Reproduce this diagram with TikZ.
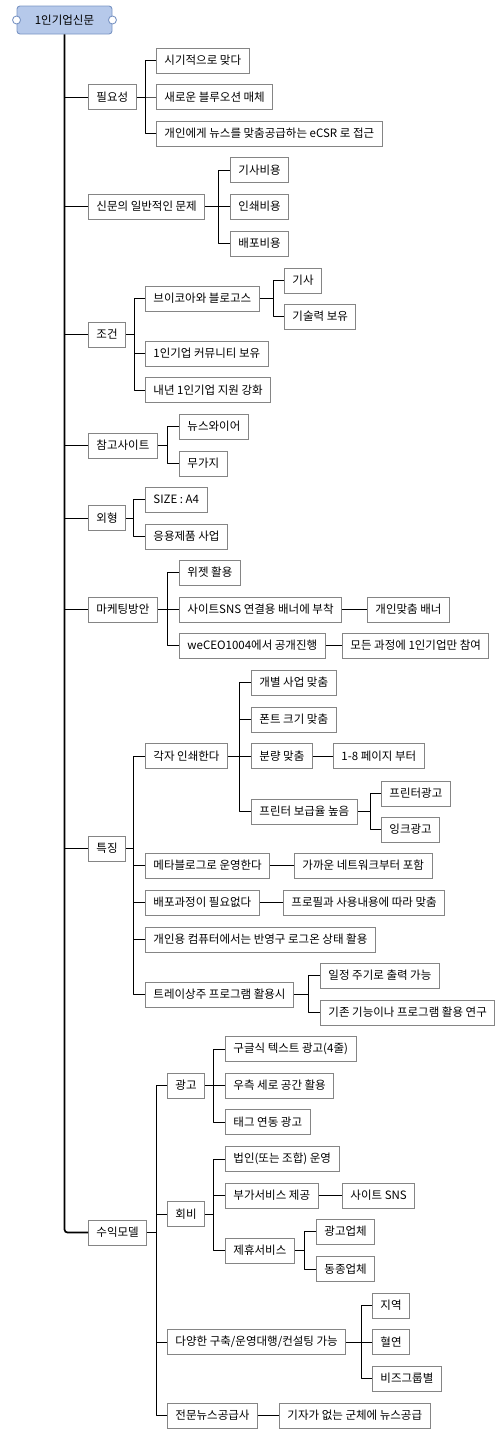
\documentclass[tikz,border=0pt]{standalone}
\usepackage{fontspec}
\setmainfont{Noto Sans CJK KR}
\usetikzlibrary{positioning}
\definecolor{mapRoot}{HTML}{B6C9EA}
\definecolor{mapRootLine}{HTML}{7A95C4}
\definecolor{mapBox}{HTML}{858585}

\begin{document}
\begin{tikzpicture}[x=1pt, y=-1pt,
  topic/.style={draw=mapBox, line width=0.9pt, fill=white, anchor=west,
    minimum height=25pt, inner xsep=8pt, inner ysep=0pt,
    font=\fontsize{11.5}{13}\selectfont},
  link/.style={line width=1pt, line join=round},
  trunk/.style={line width=1.7pt, rounded corners=3pt},
  handle/.style={draw=mapRootLine, fill=white, line width=0.9pt}]

  \useasboundingbox (0,0) rectangle (500,1436);

  %% --- Root topic ---
  \node[draw=mapRootLine, fill=mapRoot, line width=0.9pt, rounded corners=3pt,
    minimum width=95pt, minimum height=28pt, font=\fontsize{11.5}{13}\selectfont]
    (root) at (64.5, 20) {1인기업신문};
  \draw[handle] (root.west) circle [radius=4pt];
  \draw[handle] (root.east) circle [radius=4pt];

  %% --- Main topics ---
  \node[topic] (need)      at (88, 97)     {필요성};
  \node[topic] (problem)   at (88, 206.5)  {신문의 일반적인 문제};
  \node[topic] (cond)      at (88, 334.5)  {조건};
  \node[topic] (refsite)   at (88, 445.5)  {참고사이트};
  \node[topic] (outline)   at (88, 518)    {외형};
  \node[topic] (marketing) at (88, 609.5)  {마케팅방안};
  \node[topic] (feature)   at (88, 848.5)  {특징};
  \node[topic] (revenue)   at (88, 1232.5) {수익모델};

  %% trunk and its branches
  \draw[trunk] (root.south) |- (revenue.west);
  \foreach \n in {need, problem, cond, refsite, outline, marketing, feature}
    \draw[link] (\n.west) -- (\n.west -| root.south);

  %% --- 필요성 ---
  \node[topic] (need1) at (156, 60.5)  {시기적으로 맞다};
  \node[topic] (need2) at (156, 97)    {새로운 블루오션 매체};
  \node[topic] (need3) at (156, 133.5) {개인에게 뉴스를 맞춤공급하는 eCSR 로 접근};
  \foreach \c in {need1, need2, need3}
    \draw[link] (\c.west) -- ++(-11,0) |- (need.east);

  %% --- 신문의 일반적인 문제 ---
  \node[topic] (cost1) at (230, 170)   {기사비용};
  \node[topic] (cost2) at (230, 206.5) {인쇄비용};
  \node[topic] (cost3) at (230, 243.5) {배포비용};
  \foreach \c in {cost1, cost2, cost3}
    \draw[link] (\c.west) -- ++(-12,0) |- (problem.east);

  %% --- 조건 ---
  \node[topic] (cond1)  at (145, 298.5) {브이코아와 블로고스};
  \node[topic] (cond2)  at (145, 353.5) {1인기업 커뮤니티 보유};
  \node[topic] (cond3)  at (145, 390)   {내년 1인기업 지원 강화};
  \node[topic] (cond11) at (284, 280.5) {기사};
  \node[topic] (cond12) at (284, 316.5) {기술력 보유};
  \foreach \c in {cond1, cond2, cond3}
    \draw[link] (\c.west) -- ++(-11,0) |- (cond.east);
  \foreach \c in {cond11, cond12}
    \draw[link] (\c.west) -- ++(-11,0) |- (cond1.east);

  %% --- 참고사이트 ---
  \node[topic] (ref1) at (179, 426.5) {뉴스와이어};
  \node[topic] (ref2) at (179, 463.5) {무가지};
  \foreach \c in {ref1, ref2}
    \draw[link] (\c.west) -- ++(-12,0) |- (refsite.east);

  %% --- 외형 ---
  \node[topic] (outline1) at (145, 499.5) {SIZE : A4};
  \node[topic] (outline2) at (145, 536.5) {응용제품 사업};
  \foreach \c in {outline1, outline2}
    \draw[link] (\c.west) -- ++(-12,0) |- (outline.east);

  %% --- 마케팅방안 ---
  \node[topic] (mk1)  at (179, 572.5) {위젯 활용};
  \node[topic] (mk2)  at (179, 609.5) {사이트SNS 연결용 배너에 부착};
  \node[topic] (mk3)  at (179, 645.5) {weCEO1004에서 공개진행};
  \node[topic] (mk21) at (367, 609.5) {개인맞춤 배너};
  \node[topic] (mk31) at (342, 645.5) {모든 과정에 1인기업만 참여};
  \foreach \c in {mk1, mk2, mk3}
    \draw[link] (\c.west) -- ++(-12,0) |- (marketing.east);
  \draw[link] (mk2.east) -- (mk21.west);
  \draw[link] (mk3.east) -- (mk31.west);

  %% --- 특징 ---
  \node[topic] (ft1) at (145, 756)   {각자 인쇄한다};
  \node[topic] (ft2) at (145, 865.5) {메타블로그로 운영한다};
  \node[topic] (ft3) at (145, 902.5) {배포과정이 필요없다};
  \node[topic] (ft4) at (145, 939.5) {개인용 컴퓨터에서는 반영구 로그온 상태 활용};
  \node[topic] (ft5) at (145, 994.5) {트레이상주 프로그램 활용시};
  \foreach \c in {ft1, ft2, ft3, ft4, ft5}
    \draw[link] (\c.west) -- ++(-12,0) |- (feature.east);

  \node[topic] (ft11) at (251, 682.5) {개별 사업 맞춤};
  \node[topic] (ft12) at (251, 719.5) {폰트 크기 맞춤};
  \node[topic] (ft13) at (251, 756)   {분량 맞춤};
  \node[topic] (ft14) at (251, 811.5) {프린터 보급율 높음};
  \foreach \c in {ft11, ft12, ft13, ft14}
    \draw[link] (\c.west) -- ++(-12,0) |- (ft1.east);

  \node[topic] (ft131) at (333, 756)   {1-8 페이지 부터};
  \node[topic] (ft141) at (381, 793.5) {프린터광고};
  \node[topic] (ft142) at (381, 829.5) {잉크광고};
  \draw[link] (ft13.east) -- (ft131.west);
  \foreach \c in {ft141, ft142}
    \draw[link] (\c.west) -- ++(-11,0) |- (ft14.east);

  \node[topic] (ft21) at (294, 865.5)  {가까운 네트워크부터 포함};
  \node[topic] (ft31) at (283, 902.5)  {프로필과 사용내용에 따라 맞춤};
  \node[topic] (ft51) at (320, 975.5)  {일정 주기로 출력 가능};
  \node[topic] (ft52) at (320, 1012.5) {기존 기능이나 프로그램 활용 연구};
  \draw[link] (ft2.east) -- (ft21.west);
  \draw[link] (ft3.east) -- (ft31.west);
  \foreach \c in {ft51, ft52}
    \draw[link] (\c.west) -- ++(-12,0) |- (ft5.east);

  %% --- 수익모델 ---
  \node[topic] (rv1) at (167, 1085.5) {광고};
  \node[topic] (rv2) at (167, 1214)   {회비};
  \node[topic] (rv3) at (167, 1342)   {다양한 구축/운영대행/컨설팅 가능};
  \node[topic] (rv4) at (167, 1415.5) {전문뉴스공급사};
  \foreach \c in {rv1, rv2, rv3, rv4}
    \draw[link] (\c.west) -- ++(-11,0) |- (revenue.east);

  \node[topic] (rv11) at (225, 1049)   {구글식 텍스트 광고(4줄)};
  \node[topic] (rv12) at (225, 1085.5) {우측 세로 공간 활용};
  \node[topic] (rv13) at (225, 1122)   {태그 연동 광고};
  \foreach \c in {rv11, rv12, rv13}
    \draw[link] (\c.west) -- ++(-12,0) |- (rv1.east);

  \node[topic] (rv21) at (225, 1159)   {법인(또는 조합) 운영};
  \node[topic] (rv22) at (225, 1195.5) {부가서비스 제공};
  \node[topic] (rv23) at (225, 1250.5) {제휴서비스};
  \foreach \c in {rv21, rv22, rv23}
    \draw[link] (\c.west) -- ++(-12,0) |- (rv2.east);

  \node[topic] (rv221) at (342, 1195.5) {사이트 SNS};
  \node[topic] (rv231) at (316, 1231.5) {광고업체};
  \node[topic] (rv232) at (316, 1269)   {동종업체};
  \draw[link] (rv22.east) -- (rv221.west);
  \foreach \c in {rv231, rv232}
    \draw[link] (\c.west) -- ++(-12,0) |- (rv23.east);

  \node[topic] (rv31) at (372, 1305.5) {지역};
  \node[topic] (rv32) at (372, 1342)   {혈연};
  \node[topic] (rv33) at (372, 1378.5) {비즈그룹별};
  \foreach \c in {rv31, rv32, rv33}
    \draw[link] (\c.west) -- ++(-11,0) |- (rv3.east);

  \node[topic] (rv41) at (279, 1415.5) {기자가 없는 군체에 뉴스공급};
  \draw[link] (rv4.east) -- (rv41.west);
\end{tikzpicture}
\end{document}
